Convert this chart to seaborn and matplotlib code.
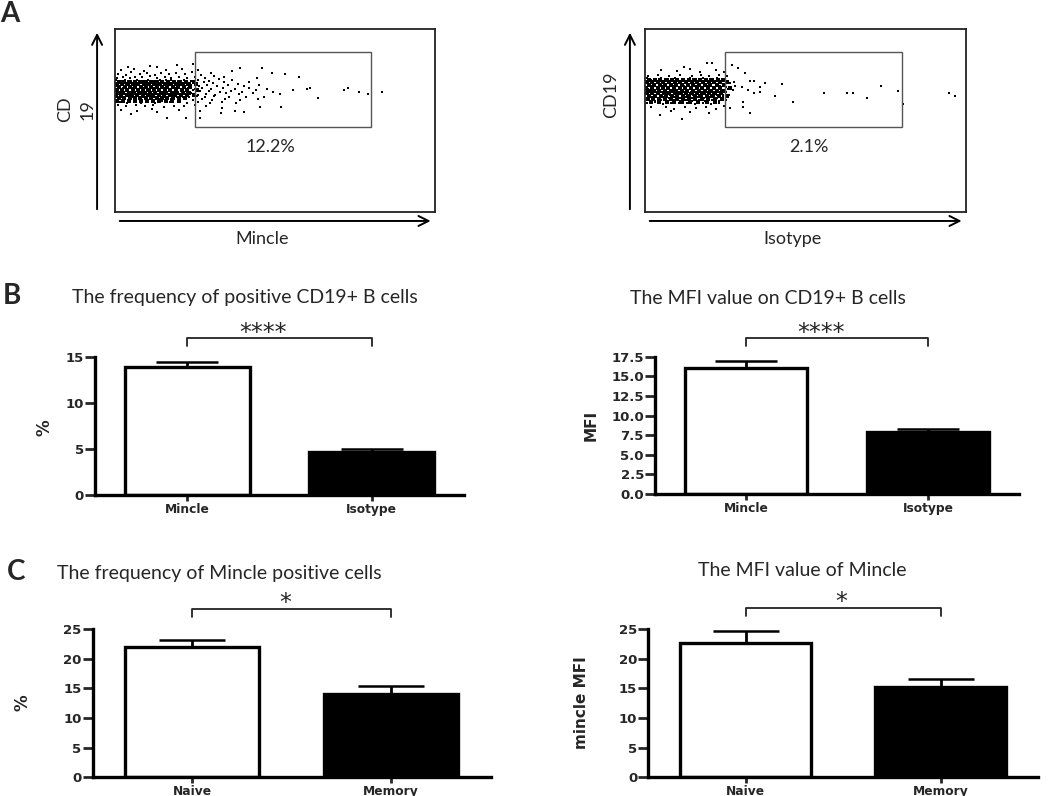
import matplotlib
matplotlib.use("Agg")
import matplotlib.pyplot as plt
import matplotlib.patches as patches
import seaborn as sns

# ---- panel A: flow plots (x/y in 0-100 channel units)
mincle_x = [2, 6, 9, 13.2, 16, 19.3, 21, 24.5, 26, 11, 4,
            1, 3.5, 5, 7.8, 10, 12.5, 14.4, 17, 19, 22, 24, 27, 30,
            0.5, 2.4, 4.6, 6.3, 8.5, 11, 13, 15.5, 17.6, 20, 22.4, 25, 28, 31, 34,
            0.3, 1.8, 3.2, 5, 6.9, 8.6, 10.4, 12.2, 14, 15.8, 17.5, 19.6, 21.5, 23.6, 26, 29.5, 32.5, 36.5,
            0.8, 2.5, 4.1, 5.8, 7.4, 9.1, 10.9, 12.6, 14.3, 16.1, 17.9, 19.8, 21.6, 23.5, 25.4, 27.8, 30.6, 34, 38.5, 42,
            0.2, 1.6, 3.3, 4.9, 6.5, 8.1, 9.8, 11.4, 13.1, 14.8, 16.5, 18.3, 20.1, 22, 23.9, 26.1, 28.9, 31.8, 35.2, 40.3, 45.1,
            0.9, 2.4, 4, 5.7, 7.2, 8.9, 10.5, 12.2, 13.9, 15.6, 17.3, 19.1, 20.9, 22.8, 24.9, 27.2, 30.1, 33.6, 37.4, 41.8, 47.5, 55.7,
            0.4, 1.9, 3.6, 5.2, 6.8, 8.5, 10.1, 11.8, 13.5, 15.2, 16.9, 18.7, 20.5, 22.4, 24.3, 26.6, 29.4, 32.7, 36.2, 39.7, 44, 49.5, 59.9,
            1.2, 2.8, 4.4, 6.1, 7.7, 9.4, 11.1, 12.8, 14.5, 16.2, 18, 19.9, 21.8, 23.7, 25.8, 28.4, 31.3, 34.8, 38.6, 43.2, 51.6, 63.5,
            0.3, 2.1, 3.7, 5.4, 7, 8.7, 10.4, 12.1, 13.8, 15.6, 17.4, 19.3, 21.2, 23.2, 25.5, 28, 31, 35.5, 40.8, 46.6,
            0.7, 2.6, 4.5, 6.4, 8.2, 10, 11.9, 13.7, 15.6, 17.6, 19.7, 21.9, 24.3, 27.1, 30.4, 34.3, 39.2, 44.7,
            1.5, 3.8, 6, 8.2, 10.3, 12.5, 14.8, 17.2, 19.8, 22.6, 25.9, 29.8, 33.4, 37.8,
            0.9, 3.5, 6.5, 9.3, 12, 15.3, 18.4, 21.6, 24.9, 33.3, 45.3, 52, 28.5,
            2, 7, 11.5, 16.1, 20, 22.2, 26.6, 26.6, 37.5, 40.3, 33.1, 5, 13,
            46, 39, 36.5, 44.3, 49, 53, 57.6, 61, 71.7, 72.9, 76.4, 79, 83.3]
mincle_y = [77.5, 78.2, 77.0, 79.4, 77.8, 80.3, 78.1, 80.9, 77.4, 80.0, 79.0,
            75.6, 75.0, 76.3, 75.2, 75.9, 75.1, 76.2, 75.4, 76.0, 75.3, 76.4, 75.0, 76.1,
            73.4, 74.0, 73.2, 73.9, 73.5, 74.1, 73.3, 73.8, 73.1, 74.0, 73.4, 73.9, 73.2, 74.2, 73.6,
            72.1, 71.6, 72.4, 71.8, 72.3, 71.7, 72.2, 71.5, 72.4, 71.9, 72.3, 71.6, 72.2, 71.8, 72.4, 71.7, 72.5, 71.9,
            70.4, 70.9, 70.2, 70.8, 70.3, 70.9, 70.1, 70.7, 70.2, 70.8, 70.3, 70.9, 70.2, 70.6, 70.1, 70.8, 70.3, 70.9, 70.2, 71.0,
            69.1, 68.7, 69.3, 68.8, 69.2, 68.6, 69.4, 68.9, 69.3, 68.7, 69.2, 68.8, 69.4, 68.7, 69.2, 68.9, 69.5, 68.6, 69.3, 68.8, 69.6,
            67.4, 67.9, 67.2, 67.7, 67.3, 67.9, 67.1, 67.6, 67.2, 67.8, 67.3, 67.7, 67.1, 67.6, 67.3, 67.9, 67.2, 67.8, 67.1, 67.7, 67.3, 66.7,
            66.1, 65.6, 66.3, 65.8, 66.2, 65.7, 66.4, 65.9, 66.2, 65.6, 66.3, 65.8, 66.1, 65.7, 66.4, 65.9, 66.2, 65.6, 66.3, 65.8, 66.4, 65.7, 67.0,
            64.4, 64.9, 64.2, 64.7, 64.3, 64.8, 64.1, 64.6, 64.3, 64.9, 64.2, 64.7, 64.3, 64.8, 64.2, 64.6, 64.1, 64.8, 64.3, 64.9, 64.4, 62.5,
            63.1, 62.6, 63.3, 62.8, 63.2, 62.7, 63.4, 62.9, 63.2, 62.6, 63.3, 62.8, 63.1, 62.7, 63.3, 62.8, 63.4, 62.7, 63.1, 62.6,
            61.4, 61.9, 61.2, 61.7, 61.3, 61.9, 61.1, 61.6, 61.2, 61.8, 61.3, 61.7, 61.2, 61.8, 61.3, 61.9, 61.1, 61.6,
            60.1, 59.6, 60.3, 59.8, 60.2, 59.7, 60.4, 59.9, 60.2, 59.7, 60.3, 59.8, 60.1, 59.6,
            58.2, 57.7, 58.4, 57.9, 58.3, 57.6, 58.1, 57.8, 58.4, 56.7, 57.5, 57.5, 58.0,
            56.0, 55.2, 56.3, 51.5, 55.6, 51.2, 55.4, 51.2, 55.2, 54.5, 54.3, 53.8, 54.5,
            78.5, 78.5, 77.0, 73.0, 75.8, 75.2, 73.6, 68.0, 66.7, 67.6, 65.4, 64.3, 65.4]
# extra events filling the dense core (rows: y level, x positions)
mincle_core_y = [71.2, 69.8, 68.3, 66.8, 65.3, 63.8, 62.3, 60.8]
mincle_core_x = [
    [1.1, 2.9, 4.5, 6.2, 7.9, 9.6, 11.3, 13.0, 14.8, 16.6, 18.4, 20.3, 22.2, 24.6],
    [0.6, 2.3, 4.0, 5.6, 7.3, 9.0, 10.6, 12.3, 14.0, 15.7, 17.4, 19.2, 21.0, 22.9, 25.3],
    [1.3, 3.0, 4.6, 6.3, 8.0, 9.6, 11.3, 13.0, 14.6, 16.3, 18.0, 19.8, 21.6, 23.5],
    [0.5, 2.1, 3.8, 5.5, 7.1, 8.8, 10.5, 12.1, 13.8, 15.5, 17.2, 19.0, 20.8, 22.6, 25.6],
    [1.0, 2.6, 4.3, 6.0, 7.6, 9.3, 11.0, 12.6, 14.3, 16.0, 17.7, 19.5, 21.3, 23.2],
    [0.4, 2.0, 3.7, 5.4, 7.0, 8.7, 10.4, 12.0, 13.7, 15.4, 17.1, 18.9, 20.7, 22.6, 24.6],
    [1.2, 2.9, 4.6, 6.3, 7.9, 9.6, 11.3, 13.0, 14.7, 16.4, 18.2, 20.1, 22.0],
    [0.5, 2.4, 4.3, 6.2, 8.1, 10.0, 11.9, 13.8, 15.8, 17.8, 19.9],
]

iso_x = [19.4, 20.8, 5, 10, 14, 17, 22, 24.5, 27, 29.1, 12,
         1, 4, 7.5, 11, 14.5, 17.5, 20, 23, 25.5, 31.2,
         0.5, 2.8, 5.1, 7.3, 9.5, 11.7, 13.9, 16, 18.2, 20.3, 22.4, 24.4, 32.7, 34,
         0.2, 1.9, 3.6, 5.4, 7.1, 8.9, 10.6, 12.4, 14.2, 16, 17.8, 19.6, 21.5, 23.4, 25.3, 27.6,
         1, 2.7, 4.4, 6.1, 7.8, 9.6, 11.3, 13.1, 14.9, 16.7, 18.5, 20.4, 22.3, 24.2, 26.5, 37.4, 30.1,
         0.4, 2, 3.7, 5.4, 7.1, 8.8, 10.6, 12.3, 14.1, 15.9, 17.7, 19.5, 21.4, 23.3, 25.1, 28, 35.8, 42.6, 73.4,
         0.8, 2.5, 4.2, 5.9, 7.6, 9.3, 11, 12.8, 14.6, 16.4, 18.2, 20, 21.9, 23.8, 25.8, 27.5, 32.2,
         0.3, 1.9, 3.6, 5.3, 7, 8.7, 10.4, 12.2, 14, 15.8, 17.6, 19.4, 21.3, 23.2, 25.1, 35.8, 33.9, 55.9, 63, 64.9, 78.9, 94.8,
         1.1, 2.8, 4.5, 6.2, 7.9, 9.7, 11.4, 13.2, 15, 16.8, 18.6, 20.5, 22.4, 24.3, 26.3, 40.5, 96.6,
         0.5, 2.2, 3.9, 5.7, 7.4, 9.2, 11, 12.8, 14.6, 16.5, 18.4, 20.3, 22.3, 24.4, 69.3,
         1.3, 3.2, 5.1, 7, 8.9, 10.8, 12.7, 14.7, 16.7, 18.7, 20.8, 23, 25.3, 30.6,
         0.6, 3, 5.5, 8, 10.5, 13, 15.5, 18, 20.5, 23, 46, 80.3,
         2, 6.5, 9, 12.5, 16, 19, 22, 24.5, 26.5, 30.6, 32.7, 11.4, 4.7, 14, 20, 8]
iso_y = [81.3, 81.6, 77.5, 76.8, 78.0, 76.5, 77.8, 76.3, 80.3, 78.5, 79.0,
         74.3, 75.0, 74.1, 74.8, 74.2, 75.1, 74.4, 74.9, 74.2, 75.8,
         73.1, 72.6, 73.3, 72.8, 73.2, 72.7, 73.4, 72.9, 73.3, 72.6, 73.1, 72.7, 71.7, 71.7,
         71.4, 71.9, 71.2, 71.7, 71.3, 71.8, 71.1, 71.6, 71.2, 71.8, 71.3, 71.7, 71.2, 71.8, 71.4, 71.1,
         70.1, 69.6, 70.3, 69.8, 70.2, 69.7, 70.4, 69.9, 70.2, 69.6, 70.3, 69.8, 70.1, 69.7, 70.3, 70.7, 68.5,
         68.4, 68.9, 68.2, 68.7, 68.3, 68.9, 68.1, 68.6, 68.2, 68.8, 68.3, 68.7, 68.2, 68.8, 68.4, 68.6, 68.5, 69.8, 68.9,
         67.1, 66.6, 67.3, 66.8, 67.2, 66.7, 67.4, 66.9, 67.2, 66.6, 67.3, 66.8, 67.1, 66.7, 67.3, 66.7, 66.9,
         65.4, 65.9, 65.2, 65.7, 65.3, 65.9, 65.1, 65.6, 65.2, 65.8, 65.3, 65.7, 65.2, 65.8, 65.4, 65.7, 64.9, 64.9, 64.9, 65.2, 66.3, 64.9,
         64.1, 63.6, 64.3, 63.8, 64.2, 63.7, 64.4, 63.9, 64.2, 63.6, 64.3, 63.8, 64.1, 63.7, 64.2, 63.6, 63.6,
         62.4, 62.9, 62.2, 62.7, 62.3, 62.9, 62.1, 62.6, 62.2, 62.8, 62.3, 62.7, 62.2, 62.8, 62.1,
         61.1, 60.6, 61.3, 60.8, 61.2, 60.7, 61.4, 60.9, 61.2, 60.6, 61.3, 60.8, 61.1, 60.3,
         59.4, 59.9, 59.2, 59.7, 59.3, 59.8, 59.2, 59.6, 59.1, 59.8, 59.9, 58.9,
         57.5, 57.2, 56.4, 57.6, 56.8, 57.3, 56.2, 57.8, 56.7, 57.5, 54.3, 50.8, 53.0, 54.6, 54.2, 55.0]
iso_core_y = [72.2, 70.8, 69.3, 67.8, 66.3, 64.8, 63.3, 61.8, 60.3]
iso_core_x = [
    [1.2, 3.0, 4.8, 6.6, 8.3, 10.1, 11.9, 13.6, 15.4, 17.2, 19.0, 20.8, 22.6, 24.3],
    [0.5, 2.2, 4.0, 5.7, 7.5, 9.2, 11.0, 12.7, 14.5, 16.3, 18.0, 19.8, 21.6, 23.5, 25.6],
    [1.1, 2.8, 4.6, 6.3, 8.0, 9.8, 11.5, 13.3, 15.0, 16.8, 18.6, 20.4, 22.3, 24.5],
    [0.4, 2.1, 3.9, 5.6, 7.3, 9.0, 10.8, 12.5, 14.3, 16.1, 17.9, 19.7, 21.6, 23.5, 26.4],
    [1.0, 2.8, 4.5, 6.2, 8.0, 9.7, 11.5, 13.2, 15.0, 16.8, 18.6, 20.5, 22.4, 24.3],
    [0.6, 2.3, 4.0, 5.8, 7.5, 9.2, 11.0, 12.7, 14.5, 16.3, 18.1, 20.0, 21.9, 23.8],
    [1.4, 3.1, 4.9, 6.6, 8.4, 10.1, 11.9, 13.7, 15.5, 17.4, 19.3, 21.2, 23.2, 25.4],
    [0.8, 2.6, 4.5, 6.3, 8.2, 10.0, 11.9, 13.8, 15.7, 17.7, 19.7, 21.8, 24.0],
    [1.9, 4.3, 6.7, 9.1, 11.6, 14.1, 16.6, 19.2, 21.8],
]

gate_x = (25, 80)
gate_y = (46.4, 87.4)
mincle_gate_pct = "12.2%"
iso_gate_pct = "2.1%"

# ---- panel B / C bar values (mean, SEM)
b_cats = ["Mincle", "Isotype"]
b_freq = [13.9, 4.65]
b_freq_err = [0.6, 0.4]
b_mfi = [16.05, 7.85]
b_mfi_err = [0.95, 0.45]

c_cats = ["Naive", "Memory"]
c_freq = [21.9, 14.05]
c_freq_err = [1.25, 1.35]
c_mfi = [22.7, 15.2]
c_mfi_err = [2.0, 1.4]

freq_ticks = [0, 5, 10, 15]
mfi_ticks = [0, 2.5, 5, 7.5, 10, 12.5, 15, 17.5]
c_ticks = [0, 5, 10, 15, 20, 25]

sns.set_style("white")
plt.rcParams['font.family'] = ['Lato', 'DejaVu Sans']

W, H = 1050, 796
fig = plt.figure(figsize=(10.5, 7.96), dpi=100)


def add_ax(x0, x1, ytop, ybot):
    return fig.add_axes([x0 / W, 1 - ybot / H, (x1 - x0) / W, (ybot - ytop) / H])


def rows_to_points(row_y, row_x):
    xs, ys = [], []
    for y, row in zip(row_y, row_x):
        xs += row
        ys += [y] * len(row)
    return xs, ys


def flow_panel(ax, xs, ys, core_xs, core_ys, pct, pct_x, xlab, ylab, ylab_pos, arrow_x):
    sns.scatterplot(x=xs, y=ys, marker='s', s=4.5, color='black', linewidth=0, ax=ax)
    # dense core drawn a bit heavier, the instrument saturates there
    sns.scatterplot(x=core_xs, y=core_ys, marker='s', s=8, color='black', linewidth=0, ax=ax)
    ax.set_xlim(0, 100)
    ax.set_ylim(0, 100)
    ax.set_xticks([])
    ax.set_yticks([])
    ax.set_xlabel('')
    ax.set_ylabel('')
    for s in ax.spines.values():
        s.set_visible(True)
        s.set_linewidth(1.3)
        s.set_color('#222222')
    ax.add_patch(patches.Rectangle((gate_x[0], gate_y[0]), gate_x[1] - gate_x[0], gate_y[1] - gate_y[0],
                                   fill=False, lw=1.0, ec='#555555'))
    ax.text(pct_x, gate_y[0] - 11, pct, ha='center', va='center', fontsize=13)
    # axis arrows
    ax.annotate('', xy=(arrow_x, 0.995), xytext=(arrow_x, 0.0), xycoords='axes fraction',
                arrowprops=dict(arrowstyle='->', lw=1.4, color='black', mutation_scale=18),
                annotation_clip=False)
    ax.annotate('', xy=(0.995, -0.049), xytext=(0.006, -0.049), xycoords='axes fraction',
                arrowprops=dict(arrowstyle='->', lw=1.4, color='black', mutation_scale=18),
                annotation_clip=False)
    ax.text(0.46, -0.15, xlab, transform=ax.transAxes, ha='center', va='center', fontsize=13)
    ax.text(ylab_pos[0], ylab_pos[1], ylab, transform=ax.transAxes, ha='center', va='center',
            fontsize=13, rotation=90, linespacing=1.5)


def bar_panel(ax, cats, vals, errs, ticks, ticklabels, br, star, star_x, capsize):
    sns.barplot(x=cats, y=vals, hue=cats, palette=['white', 'black'], saturation=1,
                edgecolor='black', linewidth=2.4, width=0.675, legend=False, ax=ax)
    ax.errorbar(x=[0, 1], y=vals, yerr=[[0, 0], errs], fmt='none', ecolor='black',
                elinewidth=2.0, capsize=capsize, capthick=1.8, zorder=3)
    ax.set_xlim(-0.5, 1.5)
    ax.set_ylim(ticks[0], ticks[-1])
    ax.set_yticks(ticks)
    ax.set_yticklabels(ticklabels, fontweight='bold', family='DejaVu Sans', fontsize=9.5)
    ax.set_xticks([0, 1])
    ax.set_xticklabels(cats, fontweight='bold', family='DejaVu Sans', fontsize=8.8)
    ax.set_xlabel('')
    ax.set_ylabel('')
    sns.despine(ax=ax)
    for side in ['left', 'bottom']:
        ax.spines[side].set_linewidth(2.4)
        ax.spines[side].set_color('black')
    ax.tick_params(axis='y', direction='out', length=7, width=2.0, pad=1, left=True)
    ax.tick_params(axis='x', direction='out', length=4, width=2.0, pad=1.5, bottom=True)
    # significance bracket
    ax.plot([0, 0, 1, 1], [br[1], br[0], br[0], br[1]], color='#222222', lw=1.3, clip_on=False)
    ax.annotate(star, xy=(star_x, br[0]), xytext=(0, -1), textcoords='offset points',
                ha='center', va='baseline', fontsize=17, family='DejaVu Sans', annotation_clip=False)


mx_extra, my_extra = rows_to_points(mincle_core_y, mincle_core_x)
ix_extra, iy_extra = rows_to_points(iso_core_y, iso_core_x)

# A
axA1 = add_ax(115, 435, 29, 212)
flow_panel(axA1, mincle_x, mincle_y, mx_extra, my_extra, mincle_gate_pct, 48.5,
           'Mincle', 'CD\n19', (-0.12, 0.56), -0.056)
axA2 = add_ax(645, 966, 29, 212)
flow_panel(axA2, iso_x, iso_y, ix_extra, iy_extra, iso_gate_pct, 51,
           'Isotype', 'CD19', (-0.104, 0.642), -0.047)

# B
axB1 = add_ax(95, 464, 357.3, 495)
bar_panel(axB1, b_cats, b_freq, b_freq_err, freq_ticks, [str(t) for t in freq_ticks],
          (17.07, 16.2), '****', 0.41, 22.5)
axB2 = add_ax(655, 1019, 356.7, 494)
bar_panel(axB2, b_cats, b_mfi, b_mfi_err, mfi_ticks, [f"{t:.1f}" for t in mfi_ticks],
          (19.83, 18.85), '****', 0.41, 22)

# C
axC1 = add_ax(92.7, 490.7, 629, 777.3)
bar_panel(axC1, c_cats, c_freq, c_freq_err, c_ticks, [str(t) for t in c_ticks],
          (28.4, 27.0), '*', 0.47, 24)
axC2 = add_ax(648.3, 1038, 629, 777.3)
bar_panel(axC2, c_cats, c_mfi, c_mfi_err, c_ticks, [str(t) for t in c_ticks],
          (28.6, 27.2), '*', 0.49, 24)

# y labels of bar panels
fig.text(45 / W, 1 - 428 / H, '%', rotation=90, ha='center', va='center',
         fontsize=12, fontweight='bold', family='DejaVu Sans')
fig.text(591 / W, 1 - 425 / H, 'MFI', rotation=90, ha='center', va='center',
         fontsize=11, fontweight='bold', family=['Liberation Sans Narrow', 'DejaVu Sans'])
fig.text(22 / W, 1 - 703 / H, '%', rotation=90, ha='center', va='center',
         fontsize=12, fontweight='bold', family='DejaVu Sans')
fig.text(582 / W, 1 - 703 / H, 'mincle MFI', rotation=90, ha='center', va='center',
         fontsize=11, fontweight='bold', family=['Liberation Sans Narrow', 'DejaVu Sans'])

# titles
fig.text(72 / W, 1 - 298 / H, 'The frequency of positive CD19+ B cells', ha='left', va='center', fontsize=14)
fig.text(630 / W, 1 - 299 / H, 'The MFI value on CD19+ B cells', ha='left', va='center', fontsize=14)
fig.text(57 / W, 1 - 573 / H, 'The frequency of Mincle positive cells', ha='left', va='center', fontsize=14)
fig.text(698 / W, 1 - 571 / H, 'The MFI value of Mincle', ha='left', va='center', fontsize=14)

# panel letters
fig.text(0 / W, 1 - 14 / H, 'A', ha='left', va='center', fontsize=20, fontweight='bold')
fig.text(3 / W, 1 - 296 / H, 'B', ha='left', va='center', fontsize=20, fontweight='bold')
fig.text(7 / W, 1 - 572 / H, 'C', ha='left', va='center', fontsize=20, fontweight='bold')

fig.savefig('out.png', dpi=100)
